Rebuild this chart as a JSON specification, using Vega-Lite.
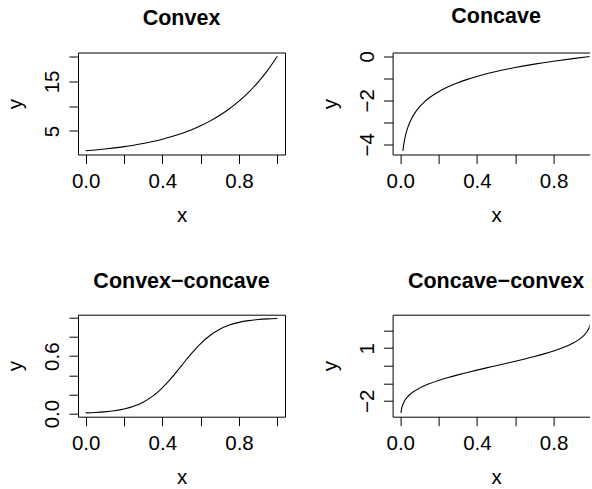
{
  "$schema": "https://vega.github.io/schema/vega-lite/v6.json",
  "background": "white",
  "padding": {"left": 5, "top": 5.5, "right": 0, "bottom": 0},
  "columns": 2,
  "bounds": "flush",
  "spacing": {"row": 160.2, "column": 107.6},
  "datasets": {
    "convex": [
      {"x": 0, "y": 1}, {"x": 0.05, "y": 1.1618}, {"x": 0.1, "y": 1.3499}, {"x": 0.15, "y": 1.5683},
      {"x": 0.2, "y": 1.8221}, {"x": 0.25, "y": 2.117}, {"x": 0.3, "y": 2.4596}, {"x": 0.35, "y": 2.8577},
      {"x": 0.4, "y": 3.3201}, {"x": 0.45, "y": 3.8574}, {"x": 0.5, "y": 4.4817}, {"x": 0.55, "y": 5.207},
      {"x": 0.6, "y": 6.0496}, {"x": 0.65, "y": 7.0287}, {"x": 0.7, "y": 8.1662}, {"x": 0.75, "y": 9.4877},
      {"x": 0.8, "y": 11.0232}, {"x": 0.85, "y": 12.8071}, {"x": 0.9, "y": 14.8797}, {"x": 0.95, "y": 17.2878},
      {"x": 1, "y": 20.0855}
    ],
    "concave": [
      {"x": 0.0137, "y": -4.29}, {"x": 0.016, "y": -4.135}, {"x": 0.02, "y": -3.912}, {"x": 0.025, "y": -3.689},
      {"x": 0.03, "y": -3.507}, {"x": 0.04, "y": -3.219}, {"x": 0.05, "y": -2.996}, {"x": 0.06, "y": -2.813},
      {"x": 0.08, "y": -2.526}, {"x": 0.1, "y": -2.303}, {"x": 0.125, "y": -2.079}, {"x": 0.15, "y": -1.897},
      {"x": 0.2, "y": -1.609}, {"x": 0.25, "y": -1.386}, {"x": 0.3, "y": -1.204}, {"x": 0.35, "y": -1.05},
      {"x": 0.4, "y": -0.916}, {"x": 0.5, "y": -0.693}, {"x": 0.6, "y": -0.511}, {"x": 0.7, "y": -0.357},
      {"x": 0.8, "y": -0.223}, {"x": 0.9, "y": -0.105}, {"x": 1, "y": 0}
    ],
    "convexconcave": [
      {"x": 0, "y": 0.00669}, {"x": 0.05, "y": 0.01099}, {"x": 0.1, "y": 0.01799}, {"x": 0.15, "y": 0.02931},
      {"x": 0.2, "y": 0.04743}, {"x": 0.25, "y": 0.07586}, {"x": 0.3, "y": 0.1192}, {"x": 0.35, "y": 0.18243},
      {"x": 0.4, "y": 0.26894}, {"x": 0.45, "y": 0.37754}, {"x": 0.5, "y": 0.5}, {"x": 0.55, "y": 0.62246},
      {"x": 0.6, "y": 0.73106}, {"x": 0.65, "y": 0.81757}, {"x": 0.7, "y": 0.8808}, {"x": 0.75, "y": 0.92414},
      {"x": 0.8, "y": 0.95257}, {"x": 0.85, "y": 0.97069}, {"x": 0.9, "y": 0.98201}, {"x": 0.95, "y": 0.98901},
      {"x": 1, "y": 0.99331}
    ],
    "concaveconvex": [
      {"x": 0.0035, "y": -2.697}, {"x": 0.005, "y": -2.576}, {"x": 0.0075, "y": -2.432}, {"x": 0.01, "y": -2.326},
      {"x": 0.015, "y": -2.17}, {"x": 0.02, "y": -2.054}, {"x": 0.03, "y": -1.881}, {"x": 0.04, "y": -1.751},
      {"x": 0.05, "y": -1.645}, {"x": 0.07, "y": -1.476}, {"x": 0.1, "y": -1.2816}, {"x": 0.15, "y": -1.0364},
      {"x": 0.2, "y": -0.8416}, {"x": 0.25, "y": -0.6745}, {"x": 0.3, "y": -0.5244}, {"x": 0.35, "y": -0.3853},
      {"x": 0.4, "y": -0.2533}, {"x": 0.45, "y": -0.1257}, {"x": 0.5, "y": 0}, {"x": 0.55, "y": 0.1257},
      {"x": 0.6, "y": 0.2533}, {"x": 0.65, "y": 0.3853}, {"x": 0.7, "y": 0.5244}, {"x": 0.75, "y": 0.6745},
      {"x": 0.8, "y": 0.8416}, {"x": 0.85, "y": 1.0364}, {"x": 0.9, "y": 1.2816}, {"x": 0.93, "y": 1.476},
      {"x": 0.95, "y": 1.645}, {"x": 0.96, "y": 1.751}, {"x": 0.97, "y": 1.881}, {"x": 0.98, "y": 2.054},
      {"x": 0.985, "y": 2.17}, {"x": 0.99, "y": 2.326}, {"x": 0.9925, "y": 2.432}, {"x": 0.995, "y": 2.576},
      {"x": 0.9965, "y": 2.697}
    ]
  },
  "concat": [
    {
      "width": 207, "height": 102,
      "title": {"text": "Convex", "offset": 22.7},
      "data": {"name": "convex"},
      "mark": {"type": "line", "color": "black", "strokeWidth": 1.1, "interpolate": "monotone", "clip": true},
      "encoding": {
        "x": {"field": "x", "type": "quantitative", "scale": {"domain": [-0.04, 1.04], "nice": false, "zero": false},
              "axis": {"title": "x", "values": [0, 0.2, 0.4, 0.6, 0.8, 1], "labelExpr": "datum.value == 0 ? '0.0' : datum.value == 0.4 ? '0.4' : datum.value == 0.8 ? '0.8' : ''"}},
        "y": {"field": "y", "type": "quantitative", "scale": {"domain": [0.237, 20.849], "nice": false, "zero": false},
              "axis": {"title": "y", "values": [5, 10, 15, 20], "labelExpr": "datum.value == 5 ? '5' : datum.value == 15 ? '15' : ''"}}
      }
    },
    {
      "width": 197, "height": 102,
      "view": {"stroke": null},
      "title": {"text": "Concave", "offset": 22.7, "dx": 5},
      "data": {"name": "concave"},
      "layer": [
        {
          "mark": {"type": "line", "color": "black", "strokeWidth": 1.1, "interpolate": "monotone", "clip": true},
          "encoding": {
            "x": {"field": "x", "type": "quantitative", "scale": {"domain": [-0.04, 0.9878], "nice": false, "zero": false},
                  "axis": {"title": "x", "domain": true, "titleX": 103.5, "values": [0, 0.2, 0.4, 0.6, 0.8], "labelExpr": "datum.value == 0 ? '0.0' : datum.value == 0.4 ? '0.4' : datum.value == 0.8 ? '0.8' : ''"}},
            "y": {"field": "y", "type": "quantitative", "scale": {"domain": [-4.4616, 0.1716], "nice": false, "zero": false},
                  "axis": {"title": "y", "domain": true, "values": [0, -1, -2, -3, -4], "labelExpr": "datum.value == 0 ? '0' : datum.value == -2 ? '\u22122' : datum.value == -4 ? '\u22124' : ''"}}
          }
        },
        {
          "mark": {"type": "line", "opacity": 0, "clip": true},
          "encoding": {
            "x": {"field": "x", "type": "quantitative", "scale": {"domain": [-0.04, 0.9878], "nice": false, "zero": false},
                  "axis": {"orient": "top", "labels": false, "ticks": false, "domain": true, "title": null}},
            "y": {"field": "y", "type": "quantitative", "scale": {"domain": [-4.4616, 0.1716], "nice": false, "zero": false},
                  "axis": {"title": "y", "domain": true, "values": [0, -1, -2, -3, -4], "labelExpr": "datum.value == 0 ? '0' : datum.value == -2 ? '\u22122' : datum.value == -4 ? '\u22124' : ''"}}
          }
        }
      ],
      "resolve": {"axis": {"x": "independent"}}
    },
    {
      "width": 207, "height": 102,
      "title": {"text": "Convex\u2212concave", "offset": 22.7},
      "data": {"name": "convexconcave"},
      "mark": {"type": "line", "color": "black", "strokeWidth": 1.1, "interpolate": "monotone", "clip": true},
      "encoding": {
        "x": {"field": "x", "type": "quantitative", "scale": {"domain": [-0.04, 1.04], "nice": false, "zero": false},
              "axis": {"title": "x", "values": [0, 0.2, 0.4, 0.6, 0.8, 1], "labelExpr": "datum.value == 0 ? '0.0' : datum.value == 0.4 ? '0.4' : datum.value == 0.8 ? '0.8' : ''"}},
        "y": {"field": "y", "type": "quantitative", "scale": {"domain": [-0.03277, 1.03277], "nice": false, "zero": false},
              "axis": {"title": "y", "values": [0, 0.2, 0.4, 0.6, 0.8, 1], "labelExpr": "datum.value == 0 ? '0.0' : datum.value == 0.6 ? '0.6' : ''"}}
      }
    },
    {
      "width": 197, "height": 102,
      "view": {"stroke": null},
      "title": {"text": "Concave\u2212convex", "offset": 22.7, "dx": 5},
      "data": {"name": "concaveconvex"},
      "layer": [
        {
          "mark": {"type": "line", "color": "black", "strokeWidth": 1.1, "interpolate": "monotone", "clip": true},
          "encoding": {
            "x": {"field": "x", "type": "quantitative", "scale": {"domain": [-0.04, 0.9878], "nice": false, "zero": false},
                  "axis": {"title": "x", "domain": true, "titleX": 103.5, "values": [0, 0.2, 0.4, 0.6, 0.8], "labelExpr": "datum.value == 0 ? '0.0' : datum.value == 0.4 ? '0.4' : datum.value == 0.8 ? '0.8' : ''"}},
            "y": {"field": "y", "type": "quantitative", "scale": {"domain": [-2.9128, 2.9128], "nice": false, "zero": false},
                  "axis": {"title": "y", "domain": true, "values": [-2, -1, 0, 1, 2], "labelExpr": "datum.value == -2 ? '\u22122' : datum.value == 1 ? '1' : ''"}}
          }
        },
        {
          "mark": {"type": "line", "opacity": 0, "clip": true},
          "encoding": {
            "x": {"field": "x", "type": "quantitative", "scale": {"domain": [-0.04, 0.9878], "nice": false, "zero": false},
                  "axis": {"orient": "top", "labels": false, "ticks": false, "domain": true, "title": null}},
            "y": {"field": "y", "type": "quantitative", "scale": {"domain": [-2.9128, 2.9128], "nice": false, "zero": false},
                  "axis": {"title": "y", "domain": true, "values": [-2, -1, 0, 1, 2], "labelExpr": "datum.value == -2 ? '\u22122' : datum.value == 1 ? '1' : ''"}}
          }
        }
      ],
      "resolve": {"axis": {"x": "independent"}}
    }
  ],
  "config": {
    "font": "Liberation Sans",
    "view": {"stroke": "black", "strokeWidth": 1},
    "title": {"font": "Liberation Sans", "fontSize": 21.5, "fontWeight": "bold", "color": "black", "anchor": "middle", "frame": "group", "baseline": "alphabetic"},
    "axis": {
      "domain": false, "domainColor": "black", "domainWidth": 1,
      "grid": false, "ticks": true, "tickColor": "black", "tickWidth": 1, "tickSize": 9,
      "labelFont": "Liberation Sans", "labelFontSize": 20.5, "labelColor": "black",
      "titleFont": "Liberation Sans", "titleFontSize": 20.5, "titleFontWeight": "normal", "titleColor": "black",
      "labelFlush": false, "labelOverlap": false, "labelBound": false
    },
    "axisX": {"labelAngle": 0, "labelPadding": 8.1, "titlePadding": 13.4},
    "axisY": {"labelAngle": 270, "labelAlign": "center", "labelBaseline": "bottom", "labelPadding": 6.4, "titlePadding": 16.9}
  }
}
